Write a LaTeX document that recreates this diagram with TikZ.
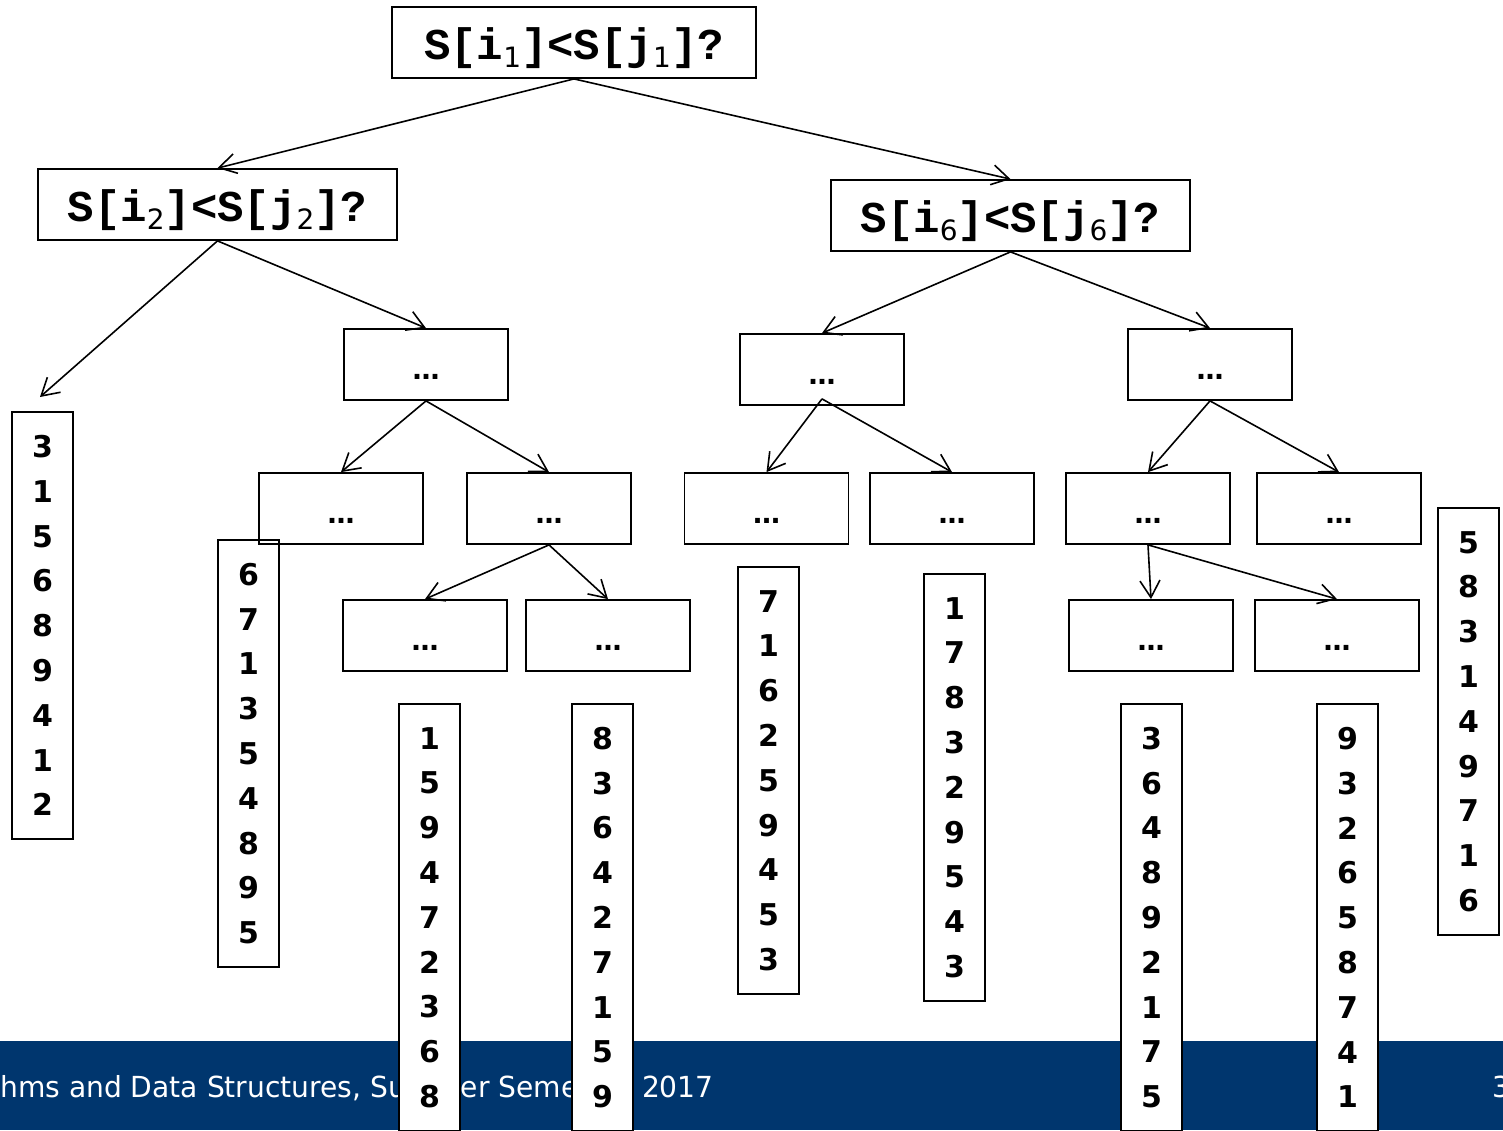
\documentclass[tikz,border=0pt]{standalone}
\usepackage{fontspec}
\usetikzlibrary{arrows.meta}
\newfontfamily\monofnt{Liberation Mono}
\newfontfamily\sansfnt{DejaVu Sans}
\newfontfamily\footfnt[FakeStretch=0.97]{DejaVu Sans}
\definecolor{footblue}{RGB}{0,54,110}
% comparison label S[i_k]<S[j_k]?
\newcommand{\qsub}[1]{\raisebox{-8pt}{\fontsize{28}{28}\selectfont\sansfnt\mdseries #1}}
\newcommand{\cmp}[1]{S[i\qsub{#1}]<S[j\qsub{#1}]?}
\tikzset{
  qbox/.style={draw, line width=1.8pt, minimum width=360pt, minimum height=71pt,
    inner sep=0pt, text height=33pt, text depth=0pt,
    font=\fontsize{44}{44}\monofnt\bfseries},
  dbox/.style={draw, line width=1.8pt, minimum width=164pt, minimum height=71pt,
    inner sep=0pt, text height=30pt, text depth=0pt,
    font=\fontsize{27}{27}\sansfnt\bfseries},
  col/.style={draw, fill=white, line width=1.8pt, minimum width=61pt, minimum height=427pt,
    inner sep=0pt, align=center, font=\fontsize{30}{44.8}\sansfnt\bfseries},
  edge/.style={line width=1.6pt, -{Straight Barb[length=17pt,width=20pt,line width=1.6pt]}},
}
\begin{document}
\begin{tikzpicture}[x=1pt,y=-1pt]
\useasboundingbox (0,0) rectangle (1503,1130);

% footer band
\fill[footblue] (0,1041) rectangle (1503,1130);
\node[anchor=base west, inner sep=0pt, text=white, font=\fontsize{29}{29}\footfnt]
  (foot) at (0,1097) {\llap{Algorit}hms and Data Structures, Summer Semester 2017};
\node[anchor=base west, inner sep=0pt, text=white, font=\fontsize{29}{29}\footfnt]
  (page) at (1492,1097) {3};

% leaf permutations
\node[col] (C1) at (42.5,625.5) {3\\1\\5\\6\\8\\9\\4\\1\\2};
\node[col] (C2) at (248.5,753.5) {6\\7\\1\\3\\5\\4\\8\\9\\5};
\node[col] (C3) at (429.5,917.5) {1\\5\\9\\4\\7\\2\\3\\6\\8};
\node[col] (C4) at (602.5,917.5) {8\\3\\6\\4\\2\\7\\1\\5\\9};
\node[col] (C5) at (768.5,780.5) {7\\1\\6\\2\\5\\9\\4\\5\\3};
\node[col] (C6) at (954.5,787.5) {1\\7\\8\\3\\2\\9\\5\\4\\3};
\node[col] (C7) at (1151.5,917.5) {3\\6\\4\\8\\9\\2\\1\\7\\5};
\node[col] (C8) at (1347.5,917.5) {9\\3\\2\\6\\5\\8\\7\\4\\1};
\node[col] (C9) at (1468.5,721.5) {5\\8\\3\\1\\4\\9\\7\\1\\6};

% comparison nodes
\node[qbox, minimum width=364pt] (Q1) at (574,42.5) {\cmp{1}};
\node[qbox, minimum width=359pt] (Q2) at (217.5,204.5) {\cmp{2}};
\node[qbox, minimum width=359pt] (Q6) at (1010.5,215.5) {\cmp{6}};

% elided subtrees
\node[dbox] (A) at (426,364.5) {…};
\node[dbox] (B) at (341,508.5) {…};
\node[dbox] (C) at (549,508.5) {…};
\node[dbox] (D) at (425,635.5) {…};
\node[dbox] (E) at (608,635.5) {…};
\node[dbox] (F) at (822,369.5) {…};
\node[dbox] (G) at (1210,364.5) {…};
\node[dbox] (H) at (766.5,508.5) {…};
\node[dbox] (I) at (952,508.5) {…};
\node[dbox] (J) at (1148,508.5) {…};
\node[dbox] (K) at (1339,508.5) {…};
\node[dbox] (L) at (1151,635.5) {…};
\node[dbox] (M) at (1337,635.5) {…};

\coordinate (c1tip) at (40,397);
\coordinate (Fout) at ([yshift=7pt]F.south);

% branches
\draw[edge] (Q1.south) -- (Q2.north);
\draw[edge] (Q1.south) -- (Q6.north);
\draw[edge] (Q2.south) -- (c1tip);
\draw[edge] (Q2.south) -- (A.north);
\draw[edge] (A.south) -- (B.north);
\draw[edge] (A.south) -- (C.north);
\draw[edge] (C.south) -- (D.north);
\draw[edge] (C.south) -- (E.north);
\draw[edge] (Q6.south) -- (F.north);
\draw[edge] (Q6.south) -- (G.north);
\draw[edge] (Fout) -- (H.north);
\draw[edge] (Fout) -- (I.north);
\draw[edge] (G.south) -- (J.north);
\draw[edge] (G.south) -- (K.north);
\draw[edge] (J.south) -- (L.north);
\draw[edge] (J.south) -- (M.north);
\end{tikzpicture}
\end{document}
